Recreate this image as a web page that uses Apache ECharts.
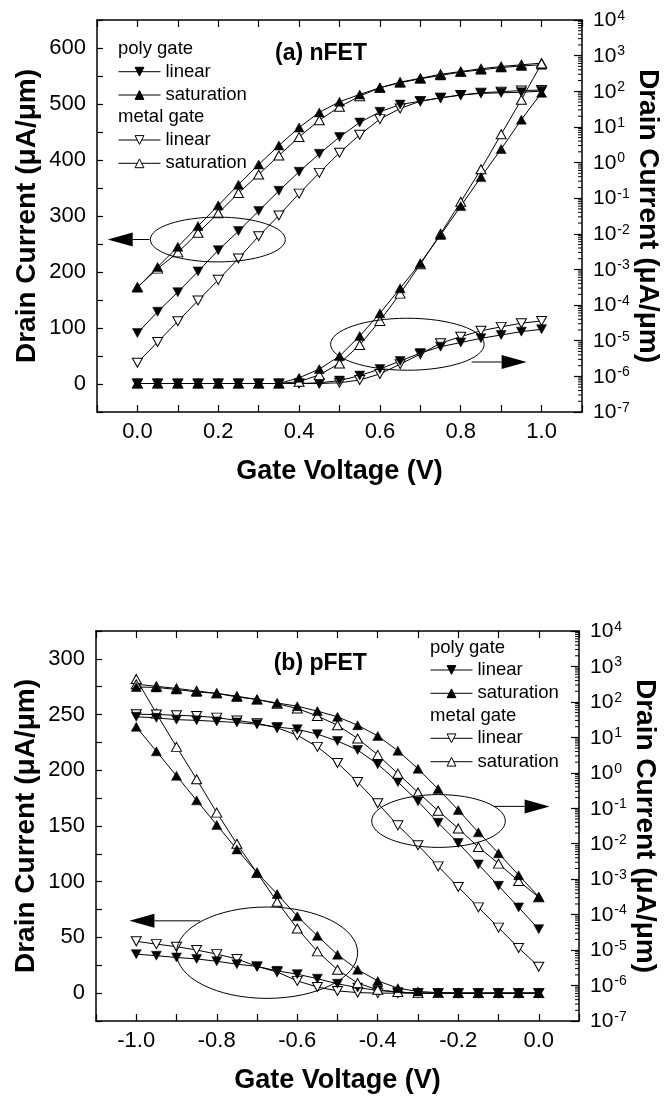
<!DOCTYPE html>
<html><head><meta charset="utf-8">
<script src="https://cdn.jsdelivr.net/npm/echarts@6/dist/echarts.min.js"></script>
<style>html,body{margin:0;padding:0;background:#fff}#c{width:667px;height:1099px}</style>
</head><body><div id="c"></div>
<script>
// ---------------- DATA ----------------
const xN = [0.0,0.05,0.1,0.15,0.2,0.25,0.3,0.35,0.4,0.45,0.5,0.55,0.6,0.65,0.7,0.75,0.8,0.85,0.9,0.95,1.0];
const xP = [-1.0,-0.95,-0.9,-0.85,-0.8,-0.75,-0.7,-0.65,-0.6,-0.55,-0.5,-0.45,-0.4,-0.35,-0.3,-0.25,-0.2,-0.15,-0.1,-0.05,0.0];

// (a) nFET, linear scale (uA/um)
const nPolyLinear  = [91,129,164,201,239,273,309,345,379,411,441,467,486,499,505,511,516,519,520,521,523];
const nPolySat     = [172,209,245,282,319,356,392,426,458,485,504,517,529,538,545,551,557,561,565,568,570];
const nMetalLinear = [38,75,112,149,186,224,264,301,340,377,413,445,473,492,505,511,516,520,522,524,525];
const nMetalSat    = [173,206,235,270,305,341,374,408,441,471,495,514,529,539,546,553,558,563,567,570,573];
// (a) nFET, log scale (uA/um)
const nPolyLinearLog  = [6.3e-7,6.3e-7,6.3e-7,6.3e-7,6.3e-7,6.3e-7,6.3e-7,6.3e-7,6.3e-7,6.6e-7,7.6e-7,1.05e-6,1.6e-6,2.7e-6,4.5e-6,6.8e-6,8.9e-6,1.17e-5,1.45e-5,1.8e-5,2.1e-5];
const nPolySatLog     = [6.3e-7,6.3e-7,6.3e-7,6.3e-7,6.3e-7,6.3e-7,6.3e-7,6.3e-7,9.1e-7,1.6e-6,3.7e-6,1.35e-5,5.9e-5,2.95e-4,1.5e-3,9.3e-3,6.0e-2,0.39,2.4,16,91];
const nMetalLinearLog = [6.3e-7,6.3e-7,6.3e-7,6.3e-7,6.3e-7,6.3e-7,6.3e-7,6.3e-7,6.3e-7,6.3e-7,6.6e-7,7.9e-7,1.17e-6,2.2e-6,4.2e-6,8.5e-6,1.3e-5,1.9e-5,2.45e-5,3.1e-5,3.6e-5];
const nMetalSatLog    = [6.3e-7,6.3e-7,6.3e-7,6.3e-7,6.3e-7,6.3e-7,6.3e-7,6.3e-7,7.1e-7,1.1e-6,2.3e-6,7.6e-6,3.6e-5,2.1e-4,1.4e-3,1.0e-2,7.9e-2,0.65,6.2,58,600];

// (b) pFET, linear scale (uA/um)
const pPolyLinear  = [35,33.6,32,30.7,28.6,26,24,20,17,13,8.4,5,2.4,1,0,0,0,0,0,0,0];
const pPolySat     = [239,217,195,173,151,129,108,89,69,51.5,34.5,21,11,4.5,1.5,0.5,0,0,0,0,0];
const pMetalLinear = [46.5,44,41.7,38.7,35,30.7,24,19,11,5.5,2,0.5,0,0,0,0,0,0,0,0,0];
const pMetalSat    = [282,251,221,192,162,134,108,82,58,37.5,21,9,3,1,0,0,0,0,0,0,0];
// (b) pFET, log scale (uA/um)
const pPolyLinearLog  = [38,35.5,31.6,30.2,28.2,26.3,23.4,19.5,17,12.3,7.9,4.4,1.74,0.55,0.158,0.039,0.0105,2.6e-3,6.5e-4,1.6e-4,3.9e-5];
const pPolySatLog     = [263,257,224,191,174,138,117,93,76,55,38,22,11,4.2,1.3,0.35,0.089,0.021,5.4e-3,1.3e-3,3.2e-4];
const pMetalLinearLog = [45,44,42,40,36,30,25,18.6,11.5,5.4,1.9,0.55,0.138,0.033,9.1e-3,2.3e-3,6.0e-4,1.6e-4,4.3e-5,1.15e-5,3.4e-6];
const pMetalSatLog    = [316,275,240,204,174,145,117,89,65,40,22,9.3,3.2,0.95,0.28,0.085,0.027,8.1e-3,2.75e-3,8.9e-4,3.1e-4];

// tick labels
const xTicksN = [0.0,0.2,0.4,0.6,0.8,1.0];
const xTicksP = [-1.0,-0.8,-0.6,-0.4,-0.2,0.0];
const yTicksN = [0,100,200,300,400,500,600];
const yTicksP = [0,50,100,150,200,250,300];
const logDecades = [-7,-6,-5,-4,-3,-2,-1,0,1,2,3,4];   // right-axis labels 10^n

// legend / text
const panelTitles = ['(a) nFET','(b) pFET'];
const groupHeaders = ['poly gate','metal gate'];
const seriesNames = ['poly gate linear','poly gate saturation','metal gate linear','metal gate saturation'];
const xName = 'Gate Voltage (V)';
const yName = 'Drain Current (\u03bcA/\u03bcm)';

// annotations in data units: ellipse [cx, cy, rx, ry] on left axis; arrow [xStart, xTip, y]
const annA = {ellipses: [[0.199,258,0.167,40],[0.668,71,0.19,46.4]], arrows: [[0.03,-0.0735,258],[0.827,0.963,39.3]]};
const annB = {ellipses: [[-0.249,154.5,0.166,23.7],[-0.675,36.3,0.225,41]], arrows: [[-0.112,0.027,167.6],[-0.841,-1.017,64.9]]};

// ---------------- LAYOUT / STYLE ----------------
const FONT = '"Liberation Sans", Arial, Helvetica, sans-serif';
const grids = [
  {left:97, top:20, width:485, height:392},
  {left:96, top:631, width:483, height:390}
];
const xRanges = [[-0.1,1.1],[-1.1,0.1]];
const yRanges = [[-50,650,50],[-25,325,25]];
const xTickLists = [xTicksN, xTicksP];
const yTickLists = [yTicksN, yTicksP];
const logMin = logDecades[0], logMax = logDecades[logDecades.length-1];

function near(list, v, eps){ return list.some(t => Math.abs(t - v) < eps); }

const xAxes = [], yAxes = [];
[0,1].forEach(gi => {
  const base = {
    type:'value', gridIndex: gi, min: xRanges[gi][0], max: xRanges[gi][1], interval: 0.1,
    axisLine:{show:true, onZero:false, lineStyle:{color:'#000', width:1.5}},
    axisTick:{show:true, inside:true, length:7, lineStyle:{color:'#000', width:1.2}},
    splitLine:{show:false}
  };
  xAxes.push(Object.assign({}, base, {
    position:'bottom',
    axisLabel:{show:true, margin:9, fontFamily:FONT, fontSize:22, color:'#000', interval:0,
      showMinLabel:true, showMaxLabel:true,
      formatter: v => near(xTickLists[gi], v, 1e-6) ? (Math.round(v*10)/10).toFixed(1) : ''},
    name: xName, nameLocation:'middle', nameGap:46, nameMoveOverlap:false,
    nameTextStyle:{fontFamily:FONT, fontSize:27, fontWeight:'bold', color:'#000'}
  }));
  xAxes.push(Object.assign({}, base, {position:'top', axisLabel:{show:false}}));
  // left linear axis
  yAxes.push({
    type:'value', gridIndex: gi, position:'left', min: yRanges[gi][0], max: yRanges[gi][1], interval: yRanges[gi][2],
    axisLine:{show:true, onZero:false, lineStyle:{color:'#000', width:1.5}},
    axisTick:{show:true, inside:true, length:6, lineStyle:{color:'#000', width:1.2}},
    splitLine:{show:false},
    axisLabel:{show:true, margin:11, fontFamily:FONT, fontSize:22, color:'#000', interval:0,
      showMinLabel:true, showMaxLabel:true,
      formatter: v => near(yTickLists[gi], v, 1e-6) ? String(Math.round(v)) : ''},
    name: yName, nameLocation:'middle', nameGap:56, nameRotate:90, nameMoveOverlap:false,
    nameTextStyle:{fontFamily:FONT, fontSize:28, fontWeight:'bold', color:'#000'}
  });
  // right log axis used to place the log-scale series (its decorations are drawn by the next axis)
  yAxes.push({
    type:'log', logBase:10, gridIndex: gi, position:'right', min: Math.pow(10, logMin), max: Math.pow(10, logMax),
    show:false, splitLine:{show:false}
  });
  // right decade axis: same span in decades, one tick per decade, labels 10^n
  yAxes.push({
    type:'value', gridIndex: gi, position:'right', min: logMin, max: logMax, interval: 1,
    axisLine:{show:true, onZero:false, lineStyle:{color:'#000', width:1.5}},
    axisTick:{show:true, inside:true, length:8, lineStyle:{color:'#000', width:1.2}},
    splitLine:{show:false},
    axisLabel:{show:true, margin:11, color:'#000', interval:0,
      showMinLabel:true, showMaxLabel:true,
      formatter: v => {
        const e = Math.round(v);
        return logDecades.indexOf(e) >= 0 ? '{b|10}{s|' + e + '}' : '';
      },
      rich:{
        b:{fontFamily:FONT, fontSize:21, color:'#000', lineHeight:22, verticalAlign:'bottom'},
        s:{fontFamily:FONT, fontSize:14, color:'#000', lineHeight:22, verticalAlign:'top', padding:[0,0,8,1]}
      }},
    name: yName, nameLocation:'middle', nameGap:52, nameRotate:-90, nameMoveOverlap:false,
    nameTextStyle:{fontFamily:FONT, fontSize:28, fontWeight:'bold', color:'#000'}
  });
});

function mk(name, xs, ys, gi, isLog, open, down){
  return {
    type:'line', name: name, xAxisIndex: gi*2, yAxisIndex: gi*3 + (isLog?1:0),
    data: xs.map((x,i) => [x, ys[i]]),
    symbol:'triangle', symbolSize:[10,9], symbolRotate: down ? 180 : 0,
    lineStyle:{color:'#000', width:1},
    itemStyle: open ? {color:'#fff', borderColor:'#000', borderWidth:1}
                    : {color:'#000', borderColor:'#000', borderWidth:0.5},
    emphasis:{disabled:true}, animation:false, clip:true
  };
}

const series = [
  mk(seriesNames[2], xN, nMetalLinear, 0, false, true, true),
  mk(seriesNames[0], xN, nPolyLinear, 0, false, false, true),
  mk(seriesNames[3], xN, nMetalSat, 0, false, true, false),
  mk(seriesNames[1], xN, nPolySat, 0, false, false, false),
  mk(seriesNames[2], xN, nMetalLinearLog, 0, true, true, true),
  mk(seriesNames[0], xN, nPolyLinearLog, 0, true, false, true),
  mk(seriesNames[3], xN, nMetalSatLog, 0, true, true, false),
  mk(seriesNames[1], xN, nPolySatLog, 0, true, false, false),

  mk(seriesNames[2], xP, pMetalLinear, 1, false, true, true),
  mk(seriesNames[0], xP, pPolyLinear, 1, false, false, true),
  mk(seriesNames[3], xP, pMetalSat, 1, false, true, false),
  mk(seriesNames[1], xP, pPolySat, 1, false, false, false),
  mk(seriesNames[2], xP, pMetalLinearLog, 1, true, true, true),
  mk(seriesNames[0], xP, pPolyLinearLog, 1, true, false, true),
  mk(seriesNames[3], xP, pMetalSatLog, 1, true, true, false),
  mk(seriesNames[1], xP, pPolySatLog, 1, true, false, false)
];

// legends: one per entry, positioned by vertical centre
const legendLeft = [118, 430];
const legendCenters = [[71.7, 95, 140, 163.3],[670, 693.3, 738.3, 761.7]];
const headerCenters = [[49.3, 117.3],[647.7, 716]];
const titleCenters = [[321, 53.3],[320.3, 663.3]];
const legends = [];
[0,1].forEach(gi => {
  seriesNames.forEach((nm, k) => {
    legends.push({
      data:[nm], orient:'vertical', left: legendLeft[gi], top: legendCenters[gi][k] - 10,
      padding:0, itemWidth:42, itemHeight:11, itemGap:0, selectedMode:false,
      formatter: n => n.replace(/^(poly|metal) gate /, ''),
      textStyle:{fontFamily:FONT, fontSize:18.5, color:'#000', lineHeight:20},
      itemStyle:{borderWidth:1}, lineStyle:{width:1, color:'#000'}
    });
  });
});

const option = {
  animation:false,
  backgroundColor:'#fff',
  grid: grids.map(g => Object.assign({containLabel:false, outerBoundsMode:'none', show:false}, g)),
  xAxis: xAxes, yAxis: yAxes, series: series, legend: legends
};

const chart = echarts.init(document.getElementById('c'), null, {renderer:'canvas'});
chart.setOption(option);

// ---------------- annotations, headers, minor log ticks ----------------
const g = [];
function pxX(gi, v){ return chart.convertToPixel({xAxisIndex: gi*2}, v); }
function pxY(gi, v){ return chart.convertToPixel({yAxisIndex: gi*3}, v); }
function pxLog(gi, v){ return chart.convertToPixel({yAxisIndex: gi*3+1}, v); }

[0,1].forEach(gi => {
  g.push({type:'text', x: titleCenters[gi][0], y: titleCenters[gi][1], z:10,
    style:{text: panelTitles[gi], font:'bold 23px ' + FONT, fill:'#000', textAlign:'center', textVerticalAlign:'middle'}});
  groupHeaders.forEach((h, k) => {
    g.push({type:'text', x: legendLeft[gi], y: headerCenters[gi][k], z:10,
      style:{text: h, font:'18.5px ' + FONT, fill:'#000', textAlign:'left', textVerticalAlign:'middle'}});
  });
  const ann = gi === 0 ? annA : annB;
  ann.ellipses.forEach(e => {
    const cx = pxX(gi, e[0]), cy = pxY(gi, e[1]);
    const rx = Math.abs(pxX(gi, e[0] + e[2]) - cx), ry = Math.abs(pxY(gi, e[1] + e[3]) - cy);
    g.push({type:'ellipse', z:5, shape:{cx:cx, cy:cy, rx:rx, ry:ry}, style:{fill:'none', stroke:'#000', lineWidth:1}});
  });
  ann.arrows.forEach(a => {
    const x1 = pxX(gi, a[0]), x2 = pxX(gi, a[1]), y = pxY(gi, a[2]);
    const dir = x2 > x1 ? 1 : -1, head = 25, half = 7;
    g.push({type:'line', z:5, shape:{x1:x1, y1:y, x2:x2 - dir*head, y2:y}, style:{stroke:'#000', lineWidth:1}});
    g.push({type:'polygon', z:5, shape:{points:[[x2,y],[x2 - dir*head, y - half],[x2 - dir*head, y + half]]}, style:{fill:'#000'}});
  });
  // minor ticks (2..9 x 10^n) of the log axis
  const xr = pxX(gi, xRanges[gi][1]);
  for (let d = logMin; d < logMax; d++) {
    for (let k = 2; k <= 9; k++) {
      const y = pxLog(gi, k * Math.pow(10, d));
      g.push({type:'line', z:5, shape:{x1:xr, y1:y, x2:xr - 4, y2:y}, style:{stroke:'#000', lineWidth:1}});
    }
  }
});
chart.setOption({graphic: g});
</script>
</body></html>
